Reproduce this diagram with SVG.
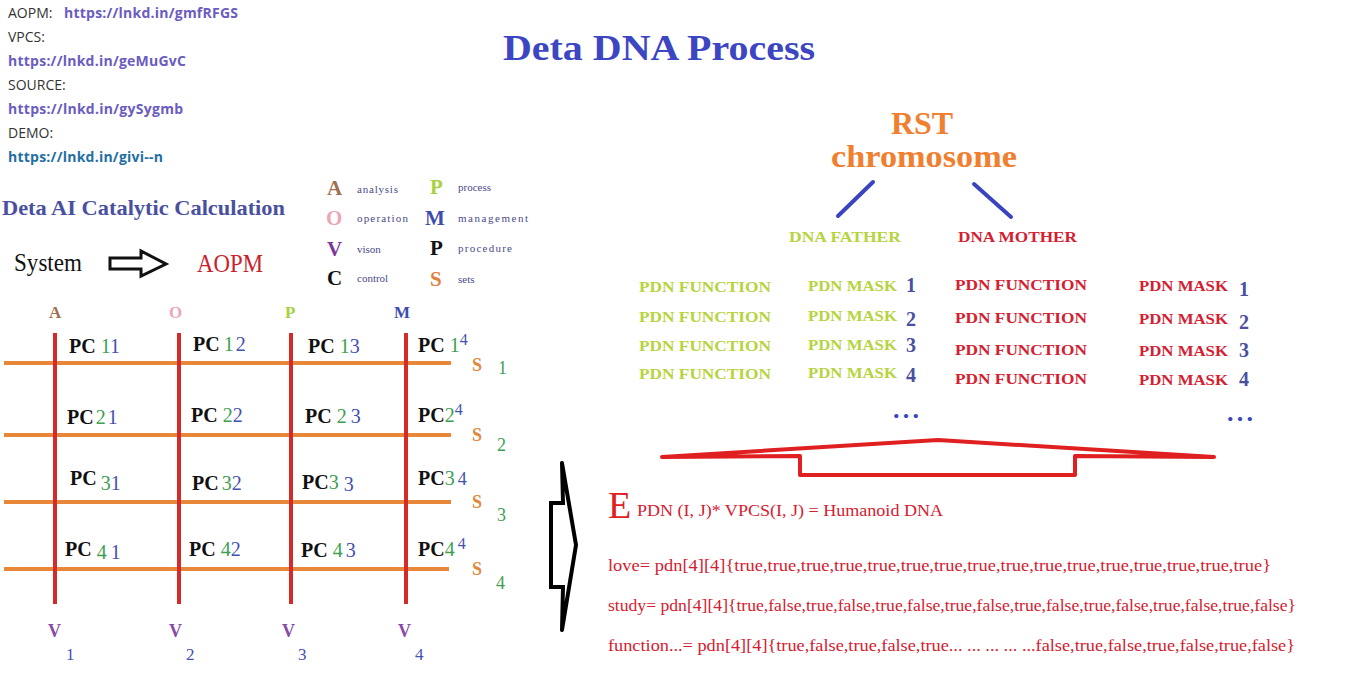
<svg xmlns="http://www.w3.org/2000/svg" width="1353" height="681" viewBox="0 0 1353 681">
<style>
.info{font-family:"Open Sans","Liberation Sans",sans-serif;font-size:14px;fill:#333}
.link{font-family:"Open Sans","Liberation Sans",sans-serif;font-size:14px;font-weight:bold;fill:#6a5cc0}
.sr{font-family:"Liberation Serif",serif}
.b{font-weight:bold}
.pc{font-family:"Liberation Serif",serif;font-weight:bold;font-size:20px;fill:#111}
.g{fill:#3e9e52;font-weight:normal}
.bl{fill:#4650b0;font-weight:normal}
.leg{font-family:"Liberation Serif",serif;font-size:11px;fill:#4a4a88}
.ll{font-family:"Liberation Serif",serif;font-weight:bold;font-size:21px}
.fa{font-family:"Liberation Serif",serif;font-size:15px;font-weight:bold;fill:#b5d43e}
.mo{font-family:"Liberation Serif",serif;font-size:15px;font-weight:bold;fill:#d42030}
.num{font-family:"Liberation Serif",serif;font-size:20px;font-weight:bold;fill:#4a50a0}
.code{font-family:"Liberation Serif",serif;font-size:16px;fill:#d42030}
.vl{stroke:#d42a2a;stroke-width:4}
.hl{stroke:#e8863a;stroke-width:4}
.dots{font-family:"Liberation Serif",serif;font-weight:bold;font-size:26px;fill:#3a44c0}
</style>
<rect width="1353" height="681" fill="#fff"/>

<g id="info">
<text class="info" x="8" y="18">AOPM:</text>
<text class="link" x="64" y="18" textLength="174">https://lnkd.in/gmfRFGS</text>
<text class="info" x="8" y="42">VPCS:</text>
<text class="link" x="8" y="66" textLength="178">https://lnkd.in/geMuGvC</text>
<text class="info" x="8" y="90">SOURCE:</text>
<text class="link" x="8" y="114" textLength="175">https://lnkd.in/gySygmb</text>
<text class="info" x="8" y="138">DEMO:</text>
<text class="link" x="8" y="162" textLength="155" style="fill:#1f6fa3">https://lnkd.in/givi--n</text>
</g>

<g id="title"><text class="sr b" x="503" y="60" font-size="35" fill="#3c46c2" textLength="312" lengthAdjust="spacingAndGlyphs">Deta DNA Process</text></g>

<g id="calc-title"><text class="sr b" x="2" y="215" font-size="21" fill="#4a50a0" textLength="283" lengthAdjust="spacingAndGlyphs">Deta AI Catalytic Calculation</text></g>

<g id="system">
<text class="sr" x="14" y="271" font-size="26" fill="#111" textLength="68" lengthAdjust="spacingAndGlyphs">System</text>
<path d="M110,258 H141 V251 L166,264 L141,276 V269 H110 Z" fill="none" stroke="#111" stroke-width="3"/>
<text class="sr" x="197" y="272" font-size="26" fill="#c8232c" textLength="66" lengthAdjust="spacingAndGlyphs">AOPM</text>
</g>

<g id="legend">
<text class="ll" x="327" y="195" fill="#a07050">A</text><text class="leg" x="357" y="193" textLength="41">analysis</text>
<text class="ll" x="326" y="225" fill="#eba7b6">O</text><text class="leg" x="357" y="222" textLength="51">operation</text>
<text class="ll" x="327" y="256" fill="#7a3a9a">V</text><text class="leg" x="357" y="253">vison</text>
<text class="ll" x="327" y="285" fill="#111">C</text><text class="leg" x="357" y="282">control</text>
<text class="ll" x="430" y="194" fill="#a8d040">P</text><text class="leg" x="458" y="191">process</text>
<text class="ll" x="425" y="225" fill="#3e4cb0">M</text><text class="leg" x="458" y="222" textLength="70">management</text>
<text class="ll" x="430" y="255" fill="#111">P</text><text class="leg" x="458" y="252" textLength="54">procedure</text>
<text class="ll" x="430" y="286" fill="#e08040">S</text><text class="leg" x="458" y="283">sets</text>
</g>

<g id="grid-lines">
<line class="hl" x1="4" y1="363" x2="451" y2="363"/>
<line class="hl" x1="4" y1="435" x2="451" y2="435"/>
<line class="hl" x1="4" y1="502" x2="451" y2="502"/>
<line class="hl" x1="4" y1="569" x2="449" y2="569"/>
<line class="vl" x1="55" y1="333" x2="55" y2="604"/>
<line class="vl" x1="179" y1="333" x2="179" y2="604"/>
<line class="vl" x1="291" y1="333" x2="291" y2="604"/>
<line class="vl" x1="406" y1="333" x2="406" y2="604"/>
</g>

<g id="col-headers">
<text class="sr b" x="49" y="318" font-size="17" fill="#a07050">A</text>
<text class="sr b" x="169" y="318" font-size="17" fill="#eba7b6">O</text>
<text class="sr b" x="285" y="318" font-size="17" fill="#a8d040">P</text>
<text class="sr b" x="394" y="318" font-size="17" fill="#3e4cb0">M</text>
</g>

<g id="cells">
<text class="pc" x="69" y="353">PC <tspan class="g">1</tspan><tspan class="bl">1</tspan></text>
<text class="pc" x="193" y="351">PC<tspan class="g" dx="4">1</tspan><tspan class="bl" dx="2">2</tspan></text>
<text class="pc" x="308" y="353">PC <tspan class="g">1</tspan><tspan class="bl">3</tspan></text>
<text class="pc" x="418" y="352">PC <tspan class="g">1</tspan><tspan class="bl" font-size="16" dy="-7">4</tspan></text>

<text class="pc" x="67" y="424">PC<tspan class="g" dx="2">2</tspan><tspan class="bl" dx="2">1</tspan></text>
<text class="pc" x="191" y="422">PC <tspan class="g">2</tspan><tspan class="bl">2</tspan></text>
<text class="pc" x="305" y="423">PC <tspan class="g">2</tspan><tspan class="bl" dx="4">3</tspan></text>
<text class="pc" x="418" y="422">PC<tspan class="g">2</tspan><tspan class="bl" font-size="16" dy="-7">4</tspan></text>

<text class="pc" x="70" y="485">PC<tspan class="g" dx="4" dy="5">3</tspan><tspan class="bl">1</tspan></text>
<text class="pc" x="192" y="490">PC<tspan class="g" dx="3">3</tspan><tspan class="bl">2</tspan></text>
<text class="pc" x="302" y="489">PC<tspan class="g">3</tspan><tspan class="bl" dx="5" dy="2">3</tspan></text>
<text class="pc" x="418" y="485">PC<tspan class="g">3</tspan><tspan class="bl" dx="3" font-size="18">4</tspan></text>

<text class="pc" x="65" y="556">PC<tspan class="g" dx="5" dy="3">4</tspan><tspan class="bl" dx="4">1</tspan></text>
<text class="pc" x="189" y="556">PC <tspan class="g">4</tspan><tspan class="bl">2</tspan></text>
<text class="pc" x="301" y="557">PC <tspan class="g">4</tspan><tspan class="bl" dx="3">3</tspan></text>
<text class="pc" x="418" y="556">PC<tspan class="g">4</tspan><tspan class="bl" font-size="16" dx="3" dy="-7">4</tspan></text>
</g>

<g id="set-labels">
<text class="sr b" x="472" y="371" font-size="18" fill="#e08a40">S</text><text class="sr g" x="498" y="374" font-size="18">1</text>
<text class="sr b" x="472" y="441" font-size="18" fill="#e08a40">S</text><text class="sr g" x="497" y="451" font-size="18">2</text>
<text class="sr b" x="472" y="508" font-size="18" fill="#e08a40">S</text><text class="sr g" x="497" y="521" font-size="18">3</text>
<text class="sr b" x="472" y="575" font-size="18" fill="#e08a40">S</text><text class="sr g" x="496" y="589" font-size="18">4</text>
</g>

<g id="v-labels">
<text class="sr b" x="48" y="637" font-size="18" fill="#8a4aa8">V</text><text class="sr bl" x="66" y="660" font-size="17">1</text>
<text class="sr b" x="169" y="637" font-size="18" fill="#8a4aa8">V</text><text class="sr bl" x="186" y="660" font-size="17">2</text>
<text class="sr b" x="282" y="637" font-size="18" fill="#8a4aa8">V</text><text class="sr bl" x="298" y="660" font-size="17">3</text>
<text class="sr b" x="398" y="637" font-size="18" fill="#8a4aa8">V</text><text class="sr bl" x="415" y="660" font-size="17">4</text>
</g>

<g id="rst">
<text class="sr b" x="922" y="134" font-size="32" fill="#f08030" text-anchor="middle">RST</text>
<text class="sr b" x="831" y="167" font-size="32" fill="#f08030" textLength="186" lengthAdjust="spacingAndGlyphs">chromosome</text>
</g>

<g id="connectors">
<line x1="873" y1="182" x2="838" y2="216" stroke="#3a44c0" stroke-width="4" stroke-linecap="round"/>
<line x1="974" y1="184" x2="1011" y2="217" stroke="#3a44c0" stroke-width="4" stroke-linecap="round"/>
<path d="M662,457 L938,440 L1214,457 M662,457 L800,456 V475 H1075 V456 L1214,457" fill="none" stroke="#e02020" stroke-width="4" stroke-linecap="round" stroke-linejoin="round"/>
<path d="M562,463 L563,503 H551 V587 H563 L562,630 M562,463 L576,545 L562,630" fill="none" stroke="#000" stroke-width="4" stroke-linecap="round"/>
</g>

<g id="dna-father">
<text class="fa" x="789" y="242" font-size="14" textLength="112" lengthAdjust="spacingAndGlyphs">DNA FATHER</text>
<text class="fa" x="639" y="292" textLength="132" lengthAdjust="spacingAndGlyphs">PDN FUNCTION</text>
<text class="fa" x="639" y="322" textLength="132" lengthAdjust="spacingAndGlyphs">PDN FUNCTION</text>
<text class="fa" x="639" y="351" textLength="132" lengthAdjust="spacingAndGlyphs">PDN FUNCTION</text>
<text class="fa" x="639" y="379" textLength="132" lengthAdjust="spacingAndGlyphs">PDN FUNCTION</text>
<text class="fa" x="808" y="291" textLength="89" lengthAdjust="spacingAndGlyphs">PDN MASK</text>
<text class="fa" x="808" y="321" textLength="89" lengthAdjust="spacingAndGlyphs">PDN MASK</text>
<text class="fa" x="808" y="350" textLength="89" lengthAdjust="spacingAndGlyphs">PDN MASK</text>
<text class="fa" x="808" y="378" textLength="89" lengthAdjust="spacingAndGlyphs">PDN MASK</text>
<text class="num" x="906" y="292">1</text>
<text class="num" x="906" y="326">2</text>
<text class="num" x="906" y="352">3</text>
<text class="num" x="906" y="382">4</text>
<text class="dots" x="893" y="418" textLength="26">...</text>
</g>

<g id="dna-mother">
<text class="mo" x="958" y="242" font-size="14" textLength="119" lengthAdjust="spacingAndGlyphs">DNA MOTHER</text>
<text class="mo" x="955" y="290" textLength="132" lengthAdjust="spacingAndGlyphs">PDN FUNCTION</text>
<text class="mo" x="955" y="323" textLength="132" lengthAdjust="spacingAndGlyphs">PDN FUNCTION</text>
<text class="mo" x="955" y="355" textLength="132" lengthAdjust="spacingAndGlyphs">PDN FUNCTION</text>
<text class="mo" x="955" y="384" textLength="132" lengthAdjust="spacingAndGlyphs">PDN FUNCTION</text>
<text class="mo" x="1139" y="291" textLength="89" lengthAdjust="spacingAndGlyphs">PDN MASK</text>
<text class="mo" x="1139" y="324" textLength="89" lengthAdjust="spacingAndGlyphs">PDN MASK</text>
<text class="mo" x="1139" y="356" textLength="89" lengthAdjust="spacingAndGlyphs">PDN MASK</text>
<text class="mo" x="1139" y="385" textLength="89" lengthAdjust="spacingAndGlyphs">PDN MASK</text>
<text class="num" x="1239" y="296">1</text>
<text class="num" x="1239" y="329">2</text>
<text class="num" x="1239" y="357">3</text>
<text class="num" x="1239" y="386">4</text>
<text class="dots" x="1227" y="421" textLength="26">...</text>
</g>

<g id="formula">
<text class="sr" x="608" y="518" font-size="38" fill="#e02020">E</text>
<text class="sr" x="637" y="516" font-size="16" fill="#d42030" textLength="306" lengthAdjust="spacingAndGlyphs">PDN (I, J)* VPCS(I, J) = Humanoid DNA</text>
<text class="code" x="608" y="571" textLength="663" lengthAdjust="spacingAndGlyphs">love= pdn[4][4]{true,true,true,true,true,true,true,true,true,true,true,true,true,true,true,true}</text>
<text class="code" x="608" y="611" textLength="688" lengthAdjust="spacingAndGlyphs">study= pdn[4][4]{true,false,true,false,true,false,true,false,true,false,true,false,true,false,true,false}</text>
<text class="code" x="608" y="651" textLength="687" lengthAdjust="spacingAndGlyphs">function...= pdn[4][4]{true,false,true,false,true... ... ...  ...  ...false,true,false,true,false,true,false}</text>
</g>
</svg>
